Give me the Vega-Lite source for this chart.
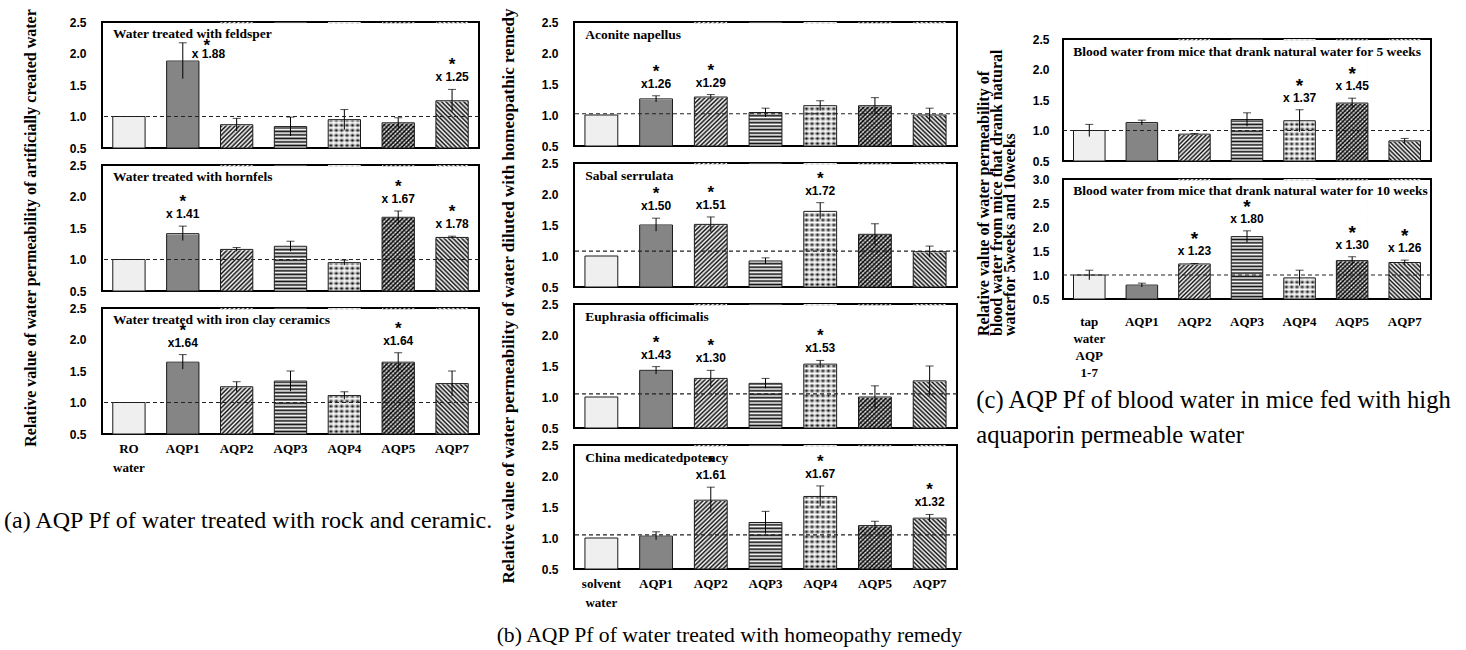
{
"$schema":"https://vega.github.io/schema/vega-lite/v6.json",
"padding":{"left":3,"top":8,"right":5,"bottom":5},
"params":[
{"name":"gp2","value":{"gradient":"linear","x1":1,"y1":1,"x2":0.698,"y2":-0.179,"stops":[{"offset":0,"color":"#111"},{"offset":0.014,"color":"#fff"},{"offset":0.028,"color":"#111"},{"offset":0.042,"color":"#fff"},{"offset":0.056,"color":"#111"},{"offset":0.07,"color":"#fff"},{"offset":0.084,"color":"#111"},{"offset":0.098,"color":"#fff"},{"offset":0.112,"color":"#111"},{"offset":0.126,"color":"#fff"},{"offset":0.14,"color":"#111"},{"offset":0.154,"color":"#fff"},{"offset":0.168,"color":"#111"},{"offset":0.182,"color":"#fff"},{"offset":0.196,"color":"#111"},{"offset":0.21,"color":"#fff"},{"offset":0.224,"color":"#111"},{"offset":0.238,"color":"#fff"},{"offset":0.252,"color":"#111"},{"offset":0.266,"color":"#fff"},{"offset":0.28,"color":"#111"},{"offset":0.294,"color":"#fff"},{"offset":0.308,"color":"#111"},{"offset":0.322,"color":"#fff"},{"offset":0.336,"color":"#111"},{"offset":0.35,"color":"#fff"},{"offset":0.364,"color":"#111"},{"offset":0.378,"color":"#fff"},{"offset":0.392,"color":"#111"},{"offset":0.406,"color":"#fff"},{"offset":0.42,"color":"#111"},{"offset":0.434,"color":"#fff"},{"offset":0.448,"color":"#111"},{"offset":0.462,"color":"#fff"},{"offset":0.476,"color":"#111"},{"offset":0.49,"color":"#fff"},{"offset":0.504,"color":"#111"},{"offset":0.518,"color":"#fff"},{"offset":0.532,"color":"#111"},{"offset":0.546,"color":"#fff"},{"offset":0.56,"color":"#111"},{"offset":0.574,"color":"#fff"},{"offset":0.588,"color":"#111"},{"offset":0.602,"color":"#fff"},{"offset":0.616,"color":"#111"},{"offset":0.63,"color":"#fff"},{"offset":0.644,"color":"#111"},{"offset":0.658,"color":"#fff"},{"offset":0.672,"color":"#111"},{"offset":0.686,"color":"#fff"},{"offset":0.7,"color":"#111"},{"offset":0.714,"color":"#fff"},{"offset":0.728,"color":"#111"},{"offset":0.742,"color":"#fff"},{"offset":0.756,"color":"#111"},{"offset":0.77,"color":"#fff"},{"offset":0.784,"color":"#111"},{"offset":0.798,"color":"#fff"},{"offset":0.812,"color":"#111"},{"offset":0.826,"color":"#fff"},{"offset":0.84,"color":"#111"},{"offset":0.854,"color":"#fff"},{"offset":0.868,"color":"#111"},{"offset":0.882,"color":"#fff"},{"offset":0.896,"color":"#111"},{"offset":0.91,"color":"#fff"},{"offset":0.924,"color":"#111"},{"offset":0.938,"color":"#fff"},{"offset":0.952,"color":"#111"},{"offset":0.966,"color":"#fff"},{"offset":0.98,"color":"#111"},{"offset":0.994,"color":"#fff"}]}},
{"name":"gp7","value":{"gradient":"linear","x1":1,"y1":0,"x2":0.698,"y2":1.179,"stops":[{"offset":0,"color":"#111"},{"offset":0.014,"color":"#fff"},{"offset":0.028,"color":"#111"},{"offset":0.042,"color":"#fff"},{"offset":0.056,"color":"#111"},{"offset":0.07,"color":"#fff"},{"offset":0.084,"color":"#111"},{"offset":0.098,"color":"#fff"},{"offset":0.112,"color":"#111"},{"offset":0.126,"color":"#fff"},{"offset":0.14,"color":"#111"},{"offset":0.154,"color":"#fff"},{"offset":0.168,"color":"#111"},{"offset":0.182,"color":"#fff"},{"offset":0.196,"color":"#111"},{"offset":0.21,"color":"#fff"},{"offset":0.224,"color":"#111"},{"offset":0.238,"color":"#fff"},{"offset":0.252,"color":"#111"},{"offset":0.266,"color":"#fff"},{"offset":0.28,"color":"#111"},{"offset":0.294,"color":"#fff"},{"offset":0.308,"color":"#111"},{"offset":0.322,"color":"#fff"},{"offset":0.336,"color":"#111"},{"offset":0.35,"color":"#fff"},{"offset":0.364,"color":"#111"},{"offset":0.378,"color":"#fff"},{"offset":0.392,"color":"#111"},{"offset":0.406,"color":"#fff"},{"offset":0.42,"color":"#111"},{"offset":0.434,"color":"#fff"},{"offset":0.448,"color":"#111"},{"offset":0.462,"color":"#fff"},{"offset":0.476,"color":"#111"},{"offset":0.49,"color":"#fff"},{"offset":0.504,"color":"#111"},{"offset":0.518,"color":"#fff"},{"offset":0.532,"color":"#111"},{"offset":0.546,"color":"#fff"},{"offset":0.56,"color":"#111"},{"offset":0.574,"color":"#fff"},{"offset":0.588,"color":"#111"},{"offset":0.602,"color":"#fff"},{"offset":0.616,"color":"#111"},{"offset":0.63,"color":"#fff"},{"offset":0.644,"color":"#111"},{"offset":0.658,"color":"#fff"},{"offset":0.672,"color":"#111"},{"offset":0.686,"color":"#fff"},{"offset":0.7,"color":"#111"},{"offset":0.714,"color":"#fff"},{"offset":0.728,"color":"#111"},{"offset":0.742,"color":"#fff"},{"offset":0.756,"color":"#111"},{"offset":0.77,"color":"#fff"},{"offset":0.784,"color":"#111"},{"offset":0.798,"color":"#fff"},{"offset":0.812,"color":"#111"},{"offset":0.826,"color":"#fff"},{"offset":0.84,"color":"#111"},{"offset":0.854,"color":"#fff"},{"offset":0.868,"color":"#111"},{"offset":0.882,"color":"#fff"},{"offset":0.896,"color":"#111"},{"offset":0.91,"color":"#fff"},{"offset":0.924,"color":"#111"},{"offset":0.938,"color":"#fff"},{"offset":0.952,"color":"#111"},{"offset":0.966,"color":"#fff"},{"offset":0.98,"color":"#111"},{"offset":0.994,"color":"#fff"}]}},
{"name":"gp3","value":{"gradient":"linear","x1":0,"y1":0,"x2":0,"y2":1,"stops":[{"offset":0,"color":"#111"},{"offset":0.014,"color":"#fff"},{"offset":0.028,"color":"#111"},{"offset":0.042,"color":"#fff"},{"offset":0.056,"color":"#111"},{"offset":0.07,"color":"#fff"},{"offset":0.084,"color":"#111"},{"offset":0.098,"color":"#fff"},{"offset":0.112,"color":"#111"},{"offset":0.126,"color":"#fff"},{"offset":0.14,"color":"#111"},{"offset":0.154,"color":"#fff"},{"offset":0.168,"color":"#111"},{"offset":0.182,"color":"#fff"},{"offset":0.196,"color":"#111"},{"offset":0.21,"color":"#fff"},{"offset":0.224,"color":"#111"},{"offset":0.238,"color":"#fff"},{"offset":0.252,"color":"#111"},{"offset":0.266,"color":"#fff"},{"offset":0.28,"color":"#111"},{"offset":0.294,"color":"#fff"},{"offset":0.308,"color":"#111"},{"offset":0.322,"color":"#fff"},{"offset":0.336,"color":"#111"},{"offset":0.35,"color":"#fff"},{"offset":0.364,"color":"#111"},{"offset":0.378,"color":"#fff"},{"offset":0.392,"color":"#111"},{"offset":0.406,"color":"#fff"},{"offset":0.42,"color":"#111"},{"offset":0.434,"color":"#fff"},{"offset":0.448,"color":"#111"},{"offset":0.462,"color":"#fff"},{"offset":0.476,"color":"#111"},{"offset":0.49,"color":"#fff"},{"offset":0.504,"color":"#111"},{"offset":0.518,"color":"#fff"},{"offset":0.532,"color":"#111"},{"offset":0.546,"color":"#fff"},{"offset":0.56,"color":"#111"},{"offset":0.574,"color":"#fff"},{"offset":0.588,"color":"#111"},{"offset":0.602,"color":"#fff"},{"offset":0.616,"color":"#111"},{"offset":0.63,"color":"#fff"},{"offset":0.644,"color":"#111"},{"offset":0.658,"color":"#fff"},{"offset":0.672,"color":"#111"},{"offset":0.686,"color":"#fff"},{"offset":0.7,"color":"#111"},{"offset":0.714,"color":"#fff"},{"offset":0.728,"color":"#111"},{"offset":0.742,"color":"#fff"},{"offset":0.756,"color":"#111"},{"offset":0.77,"color":"#fff"},{"offset":0.784,"color":"#111"},{"offset":0.798,"color":"#fff"},{"offset":0.812,"color":"#111"},{"offset":0.826,"color":"#fff"},{"offset":0.84,"color":"#111"},{"offset":0.854,"color":"#fff"},{"offset":0.868,"color":"#111"},{"offset":0.882,"color":"#fff"},{"offset":0.896,"color":"#111"},{"offset":0.91,"color":"#fff"},{"offset":0.924,"color":"#111"},{"offset":0.938,"color":"#fff"},{"offset":0.952,"color":"#111"},{"offset":0.966,"color":"#fff"},{"offset":0.98,"color":"#111"},{"offset":0.994,"color":"#fff"}]}},
{"name":"gp5a","value":{"gradient":"linear","x1":1,"y1":1,"x2":0.698,"y2":-0.179,"stops":[{"offset":0,"color":"#000"},{"offset":0.014,"color":"#fff"},{"offset":0.028,"color":"#000"},{"offset":0.042,"color":"#fff"},{"offset":0.056,"color":"#000"},{"offset":0.07,"color":"#fff"},{"offset":0.084,"color":"#000"},{"offset":0.098,"color":"#fff"},{"offset":0.112,"color":"#000"},{"offset":0.126,"color":"#fff"},{"offset":0.14,"color":"#000"},{"offset":0.154,"color":"#fff"},{"offset":0.168,"color":"#000"},{"offset":0.182,"color":"#fff"},{"offset":0.196,"color":"#000"},{"offset":0.21,"color":"#fff"},{"offset":0.224,"color":"#000"},{"offset":0.238,"color":"#fff"},{"offset":0.252,"color":"#000"},{"offset":0.266,"color":"#fff"},{"offset":0.28,"color":"#000"},{"offset":0.294,"color":"#fff"},{"offset":0.308,"color":"#000"},{"offset":0.322,"color":"#fff"},{"offset":0.336,"color":"#000"},{"offset":0.35,"color":"#fff"},{"offset":0.364,"color":"#000"},{"offset":0.378,"color":"#fff"},{"offset":0.392,"color":"#000"},{"offset":0.406,"color":"#fff"},{"offset":0.42,"color":"#000"},{"offset":0.434,"color":"#fff"},{"offset":0.448,"color":"#000"},{"offset":0.462,"color":"#fff"},{"offset":0.476,"color":"#000"},{"offset":0.49,"color":"#fff"},{"offset":0.504,"color":"#000"},{"offset":0.518,"color":"#fff"},{"offset":0.532,"color":"#000"},{"offset":0.546,"color":"#fff"},{"offset":0.56,"color":"#000"},{"offset":0.574,"color":"#fff"},{"offset":0.588,"color":"#000"},{"offset":0.602,"color":"#fff"},{"offset":0.616,"color":"#000"},{"offset":0.63,"color":"#fff"},{"offset":0.644,"color":"#000"},{"offset":0.658,"color":"#fff"},{"offset":0.672,"color":"#000"},{"offset":0.686,"color":"#fff"},{"offset":0.7,"color":"#000"},{"offset":0.714,"color":"#fff"},{"offset":0.728,"color":"#000"},{"offset":0.742,"color":"#fff"},{"offset":0.756,"color":"#000"},{"offset":0.77,"color":"#fff"},{"offset":0.784,"color":"#000"},{"offset":0.798,"color":"#fff"},{"offset":0.812,"color":"#000"},{"offset":0.826,"color":"#fff"},{"offset":0.84,"color":"#000"},{"offset":0.854,"color":"#fff"},{"offset":0.868,"color":"#000"},{"offset":0.882,"color":"#fff"},{"offset":0.896,"color":"#000"},{"offset":0.91,"color":"#fff"},{"offset":0.924,"color":"#000"},{"offset":0.938,"color":"#fff"},{"offset":0.952,"color":"#000"},{"offset":0.966,"color":"#fff"},{"offset":0.98,"color":"#000"},{"offset":0.994,"color":"#fff"}]}},
{"name":"gp5b","value":{"gradient":"linear","x1":1,"y1":0,"x2":0.698,"y2":1.179,"stops":[{"offset":0,"color":"rgba(0,0,0,0.5)"},{"offset":0.014,"color":"rgba(0,0,0,0)"},{"offset":0.028,"color":"rgba(0,0,0,0.5)"},{"offset":0.042,"color":"rgba(0,0,0,0)"},{"offset":0.056,"color":"rgba(0,0,0,0.5)"},{"offset":0.07,"color":"rgba(0,0,0,0)"},{"offset":0.084,"color":"rgba(0,0,0,0.5)"},{"offset":0.098,"color":"rgba(0,0,0,0)"},{"offset":0.112,"color":"rgba(0,0,0,0.5)"},{"offset":0.126,"color":"rgba(0,0,0,0)"},{"offset":0.14,"color":"rgba(0,0,0,0.5)"},{"offset":0.154,"color":"rgba(0,0,0,0)"},{"offset":0.168,"color":"rgba(0,0,0,0.5)"},{"offset":0.182,"color":"rgba(0,0,0,0)"},{"offset":0.196,"color":"rgba(0,0,0,0.5)"},{"offset":0.21,"color":"rgba(0,0,0,0)"},{"offset":0.224,"color":"rgba(0,0,0,0.5)"},{"offset":0.238,"color":"rgba(0,0,0,0)"},{"offset":0.252,"color":"rgba(0,0,0,0.5)"},{"offset":0.266,"color":"rgba(0,0,0,0)"},{"offset":0.28,"color":"rgba(0,0,0,0.5)"},{"offset":0.294,"color":"rgba(0,0,0,0)"},{"offset":0.308,"color":"rgba(0,0,0,0.5)"},{"offset":0.322,"color":"rgba(0,0,0,0)"},{"offset":0.336,"color":"rgba(0,0,0,0.5)"},{"offset":0.35,"color":"rgba(0,0,0,0)"},{"offset":0.364,"color":"rgba(0,0,0,0.5)"},{"offset":0.378,"color":"rgba(0,0,0,0)"},{"offset":0.392,"color":"rgba(0,0,0,0.5)"},{"offset":0.406,"color":"rgba(0,0,0,0)"},{"offset":0.42,"color":"rgba(0,0,0,0.5)"},{"offset":0.434,"color":"rgba(0,0,0,0)"},{"offset":0.448,"color":"rgba(0,0,0,0.5)"},{"offset":0.462,"color":"rgba(0,0,0,0)"},{"offset":0.476,"color":"rgba(0,0,0,0.5)"},{"offset":0.49,"color":"rgba(0,0,0,0)"},{"offset":0.504,"color":"rgba(0,0,0,0.5)"},{"offset":0.518,"color":"rgba(0,0,0,0)"},{"offset":0.532,"color":"rgba(0,0,0,0.5)"},{"offset":0.546,"color":"rgba(0,0,0,0)"},{"offset":0.56,"color":"rgba(0,0,0,0.5)"},{"offset":0.574,"color":"rgba(0,0,0,0)"},{"offset":0.588,"color":"rgba(0,0,0,0.5)"},{"offset":0.602,"color":"rgba(0,0,0,0)"},{"offset":0.616,"color":"rgba(0,0,0,0.5)"},{"offset":0.63,"color":"rgba(0,0,0,0)"},{"offset":0.644,"color":"rgba(0,0,0,0.5)"},{"offset":0.658,"color":"rgba(0,0,0,0)"},{"offset":0.672,"color":"rgba(0,0,0,0.5)"},{"offset":0.686,"color":"rgba(0,0,0,0)"},{"offset":0.7,"color":"rgba(0,0,0,0.5)"},{"offset":0.714,"color":"rgba(0,0,0,0)"},{"offset":0.728,"color":"rgba(0,0,0,0.5)"},{"offset":0.742,"color":"rgba(0,0,0,0)"},{"offset":0.756,"color":"rgba(0,0,0,0.5)"},{"offset":0.77,"color":"rgba(0,0,0,0)"},{"offset":0.784,"color":"rgba(0,0,0,0.5)"},{"offset":0.798,"color":"rgba(0,0,0,0)"},{"offset":0.812,"color":"rgba(0,0,0,0.5)"},{"offset":0.826,"color":"rgba(0,0,0,0)"},{"offset":0.84,"color":"rgba(0,0,0,0.5)"},{"offset":0.854,"color":"rgba(0,0,0,0)"},{"offset":0.868,"color":"rgba(0,0,0,0.5)"},{"offset":0.882,"color":"rgba(0,0,0,0)"},{"offset":0.896,"color":"rgba(0,0,0,0.5)"},{"offset":0.91,"color":"rgba(0,0,0,0)"},{"offset":0.924,"color":"rgba(0,0,0,0.5)"},{"offset":0.938,"color":"rgba(0,0,0,0)"},{"offset":0.952,"color":"rgba(0,0,0,0.5)"},{"offset":0.966,"color":"rgba(0,0,0,0)"},{"offset":0.98,"color":"rgba(0,0,0,0.5)"},{"offset":0.994,"color":"rgba(0,0,0,0)"}]}},
{"name":"gp4r","value":{"gradient":"linear","x1":0,"y1":0,"x2":0,"y2":1,"stops":[{"offset":0,"color":"#fff"},{"offset":0.02,"color":"#000"},{"offset":0.04,"color":"#fff"},{"offset":0.06,"color":"#000"},{"offset":0.08,"color":"#fff"},{"offset":0.1,"color":"#000"},{"offset":0.12,"color":"#fff"},{"offset":0.14,"color":"#000"},{"offset":0.16,"color":"#fff"},{"offset":0.18,"color":"#000"},{"offset":0.2,"color":"#fff"},{"offset":0.22,"color":"#000"},{"offset":0.24,"color":"#fff"},{"offset":0.26,"color":"#000"},{"offset":0.28,"color":"#fff"},{"offset":0.3,"color":"#000"},{"offset":0.32,"color":"#fff"},{"offset":0.34,"color":"#000"},{"offset":0.36,"color":"#fff"},{"offset":0.38,"color":"#000"},{"offset":0.4,"color":"#fff"},{"offset":0.42,"color":"#000"},{"offset":0.44,"color":"#fff"},{"offset":0.46,"color":"#000"},{"offset":0.48,"color":"#fff"},{"offset":0.5,"color":"#000"},{"offset":0.52,"color":"#fff"},{"offset":0.54,"color":"#000"},{"offset":0.56,"color":"#fff"},{"offset":0.58,"color":"#000"},{"offset":0.6,"color":"#fff"},{"offset":0.62,"color":"#000"},{"offset":0.64,"color":"#fff"},{"offset":0.66,"color":"#000"},{"offset":0.68,"color":"#fff"},{"offset":0.7,"color":"#000"},{"offset":0.72,"color":"#fff"},{"offset":0.74,"color":"#000"},{"offset":0.76,"color":"#fff"},{"offset":0.78,"color":"#000"},{"offset":0.8,"color":"#fff"},{"offset":0.82,"color":"#000"},{"offset":0.84,"color":"#fff"},{"offset":0.86,"color":"#000"},{"offset":0.88,"color":"#fff"},{"offset":0.9,"color":"#000"},{"offset":0.92,"color":"#fff"},{"offset":0.94,"color":"#000"},{"offset":0.96,"color":"#fff"},{"offset":0.98,"color":"#000"},{"offset":1,"color":"#fff"}]}},
{"name":"gp4c","value":{"gradient":"linear","x1":0,"y1":0,"x2":1,"y2":0,"stops":[{"offset":0,"color":"rgba(255,255,255,0.85)"},{"offset":0.0833,"color":"rgba(255,255,255,0)"},{"offset":0.1667,"color":"rgba(255,255,255,0.85)"},{"offset":0.25,"color":"rgba(255,255,255,0)"},{"offset":0.3333,"color":"rgba(255,255,255,0.85)"},{"offset":0.4167,"color":"rgba(255,255,255,0)"},{"offset":0.5,"color":"rgba(255,255,255,0.85)"},{"offset":0.5833,"color":"rgba(255,255,255,0)"},{"offset":0.6667,"color":"rgba(255,255,255,0.85)"},{"offset":0.75,"color":"rgba(255,255,255,0)"},{"offset":0.8333,"color":"rgba(255,255,255,0.85)"},{"offset":0.9167,"color":"rgba(255,255,255,0)"},{"offset":1,"color":"rgba(255,255,255,0.85)"}]}}
],
"datasets":{"d":[
{"g":"a","p":"Water treated with feldsper","cat":"RO water","v":1.0},
{"g":"a","p":"Water treated with feldsper","cat":"AQP1","v":1.88,"lo":1.60,"hi":2.17,"ann":"x 1.88"},
{"g":"a","p":"Water treated with feldsper","cat":"AQP2","v":0.87,"lo":0.77,"hi":0.97},
{"g":"a","p":"Water treated with feldsper","cat":"AQP3","v":0.84,"lo":0.69,"hi":0.99},
{"g":"a","p":"Water treated with feldsper","cat":"AQP4","v":0.95,"lo":0.79,"hi":1.11},
{"g":"a","p":"Water treated with feldsper","cat":"AQP5","v":0.90,"lo":0.82,"hi":0.98},
{"g":"a","p":"Water treated with feldsper","cat":"AQP7","v":1.25,"lo":1.08,"hi":1.43,"ann":"x 1.25"},
{"g":"a","p":"Water treated with feldsper","ref":1.0},
{"g":"a","p":"Water treated with hornfels","cat":"RO water","v":1.0},
{"g":"a","p":"Water treated with hornfels","cat":"AQP1","v":1.41,"lo":1.30,"hi":1.53,"ann":"x 1.41"},
{"g":"a","p":"Water treated with hornfels","cat":"AQP2","v":1.16,"lo":1.13,"hi":1.19},
{"g":"a","p":"Water treated with hornfels","cat":"AQP3","v":1.21,"lo":1.13,"hi":1.29},
{"g":"a","p":"Water treated with hornfels","cat":"AQP4","v":0.95,"lo":0.91,"hi":0.99},
{"g":"a","p":"Water treated with hornfels","cat":"AQP5","v":1.67,"lo":1.57,"hi":1.77,"ann":"x 1.67"},
{"g":"a","p":"Water treated with hornfels","cat":"AQP7","v":1.35,"lo":1.33,"hi":1.37,"ann":"x 1.78"},
{"g":"a","p":"Water treated with hornfels","ref":1.0},
{"g":"a","p":"Water treated with iron clay ceramics","cat":"RO water","v":1.0},
{"g":"a","p":"Water treated with iron clay ceramics","cat":"AQP1","v":1.64,"lo":1.53,"hi":1.76,"ann":"x1.64"},
{"g":"a","p":"Water treated with iron clay ceramics","cat":"AQP2","v":1.25,"lo":1.17,"hi":1.33},
{"g":"a","p":"Water treated with iron clay ceramics","cat":"AQP3","v":1.34,"lo":1.18,"hi":1.50},
{"g":"a","p":"Water treated with iron clay ceramics","cat":"AQP4","v":1.11,"lo":1.05,"hi":1.17},
{"g":"a","p":"Water treated with iron clay ceramics","cat":"AQP5","v":1.64,"lo":1.50,"hi":1.79,"ann":"x1.64"},
{"g":"a","p":"Water treated with iron clay ceramics","cat":"AQP7","v":1.30,"lo":1.10,"hi":1.50},
{"g":"a","p":"Water treated with iron clay ceramics","ref":1.0},
{"g":"b","p":"Aconite napellus","cat":"solvent water","v":1.0},
{"g":"b","p":"Aconite napellus","cat":"AQP1","v":1.26,"lo":1.21,"hi":1.31,"ann":"x1.26"},
{"g":"b","p":"Aconite napellus","cat":"AQP2","v":1.29,"lo":1.25,"hi":1.33,"ann":"x1.29"},
{"g":"b","p":"Aconite napellus","cat":"AQP3","v":1.04,"lo":0.97,"hi":1.11},
{"g":"b","p":"Aconite napellus","cat":"AQP4","v":1.15,"lo":1.07,"hi":1.23},
{"g":"b","p":"Aconite napellus","cat":"AQP5","v":1.15,"lo":1.02,"hi":1.28},
{"g":"b","p":"Aconite napellus","cat":"AQP7","v":1.0,"lo":0.89,"hi":1.11},
{"g":"b","p":"Aconite napellus","ref":1.02},
{"g":"b","p":"Sabal serrulata","cat":"solvent water","v":1.0},
{"g":"b","p":"Sabal serrulata","cat":"AQP1","v":1.50,"lo":1.40,"hi":1.61,"ann":"x1.50"},
{"g":"b","p":"Sabal serrulata","cat":"AQP2","v":1.51,"lo":1.39,"hi":1.63,"ann":"x1.51"},
{"g":"b","p":"Sabal serrulata","cat":"AQP3","v":0.92,"lo":0.87,"hi":0.97},
{"g":"b","p":"Sabal serrulata","cat":"AQP4","v":1.72,"lo":1.60,"hi":1.86,"ann":"x1.72"},
{"g":"b","p":"Sabal serrulata","cat":"AQP5","v":1.35,"lo":1.18,"hi":1.52},
{"g":"b","p":"Sabal serrulata","cat":"AQP7","v":1.07,"lo":0.98,"hi":1.16},
{"g":"b","p":"Sabal serrulata","ref":1.08},
{"g":"b","p":"Euphrasia officimalis","cat":"solvent water","v":1.0},
{"g":"b","p":"Euphrasia officimalis","cat":"AQP1","v":1.43,"lo":1.37,"hi":1.49,"ann":"x1.43"},
{"g":"b","p":"Euphrasia officimalis","cat":"AQP2","v":1.30,"lo":1.17,"hi":1.43,"ann":"x1.30"},
{"g":"b","p":"Euphrasia officimalis","cat":"AQP3","v":1.22,"lo":1.14,"hi":1.30},
{"g":"b","p":"Euphrasia officimalis","cat":"AQP4","v":1.53,"lo":1.47,"hi":1.59,"ann":"x1.53"},
{"g":"b","p":"Euphrasia officimalis","cat":"AQP5","v":1.0,"lo":0.82,"hi":1.18},
{"g":"b","p":"Euphrasia officimalis","cat":"AQP7","v":1.26,"lo":1.02,"hi":1.50},
{"g":"b","p":"Euphrasia officimalis","ref":1.05},
{"g":"b","p":"China medicatedpotency","cat":"solvent water","v":1.0},
{"g":"b","p":"China medicatedpotency","cat":"AQP1","v":1.03,"lo":0.97,"hi":1.10},
{"g":"b","p":"China medicatedpotency","cat":"AQP2","v":1.61,"lo":1.41,"hi":1.82,"ann":"x1.61"},
{"g":"b","p":"China medicatedpotency","cat":"AQP3","v":1.25,"lo":1.07,"hi":1.43},
{"g":"b","p":"China medicatedpotency","cat":"AQP4","v":1.67,"lo":1.51,"hi":1.84,"ann":"x1.67"},
{"g":"b","p":"China medicatedpotency","cat":"AQP5","v":1.20,"lo":1.13,"hi":1.27},
{"g":"b","p":"China medicatedpotency","cat":"AQP7","v":1.32,"lo":1.26,"hi":1.38,"ann":"x1.32"},
{"g":"b","p":"China medicatedpotency","ref":1.05},
{"g":"c","p":"Blood water from mice that drank natural water for 5 weeks","cat":"tap water AQP 1-7","v":1.0,"lo":0.90,"hi":1.10},
{"g":"c","p":"Blood water from mice that drank natural water for 5 weeks","cat":"AQP1","v":1.13,"lo":1.09,"hi":1.17},
{"g":"c","p":"Blood water from mice that drank natural water for 5 weeks","cat":"AQP2","v":0.94,"lo":0.93,"hi":0.95},
{"g":"c","p":"Blood water from mice that drank natural water for 5 weeks","cat":"AQP3","v":1.18,"lo":1.07,"hi":1.29},
{"g":"c","p":"Blood water from mice that drank natural water for 5 weeks","cat":"AQP4","v":1.16,"lo":0.98,"hi":1.34,"ann":"x 1.37"},
{"g":"c","p":"Blood water from mice that drank natural water for 5 weeks","cat":"AQP5","v":1.45,"lo":1.37,"hi":1.53,"ann":"x 1.45"},
{"g":"c","p":"Blood water from mice that drank natural water for 5 weeks","cat":"AQP7","v":0.83,"lo":0.79,"hi":0.87},
{"g":"c","p":"Blood water from mice that drank natural water for 5 weeks","ref":1.0},
{"g":"c","p":"Blood water from mice that drank natural water for 10 weeks","cat":"tap water AQP 1-7","v":1.0,"lo":0.90,"hi":1.10},
{"g":"c","p":"Blood water from mice that drank natural water for 10 weeks","cat":"AQP1","v":0.79,"lo":0.75,"hi":0.83},
{"g":"c","p":"Blood water from mice that drank natural water for 10 weeks","cat":"AQP2","v":1.23,"lo":1.22,"hi":1.24,"ann":"x 1.23"},
{"g":"c","p":"Blood water from mice that drank natural water for 10 weeks","cat":"AQP3","v":1.80,"lo":1.68,"hi":1.92,"ann":"x 1.80"},
{"g":"c","p":"Blood water from mice that drank natural water for 10 weeks","cat":"AQP4","v":0.94,"lo":0.78,"hi":1.10},
{"g":"c","p":"Blood water from mice that drank natural water for 10 weeks","cat":"AQP5","v":1.30,"lo":1.22,"hi":1.38,"ann":"x 1.30"},
{"g":"c","p":"Blood water from mice that drank natural water for 10 weeks","cat":"AQP7","v":1.26,"lo":1.21,"hi":1.31,"ann":"x 1.26"},
{"g":"c","p":"Blood water from mice that drank natural water for 10 weeks","ref":1.0}
]},
"spacing":13,
"hconcat":[
{"spacing":0,"hconcat":[
{
"data":{"name":"d"},
"transform":[{"filter":"datum.g=='a'"}],
"title":{"text":"(a) AQP Pf of water treated with rock and ceramic.","orient":"bottom","anchor":"start","frame":"bounds","font":"Liberation Serif","fontSize":24,"fontWeight":"normal","color":"#000","offset":35,"dx":-19},
"facet":{"row":{"field":"p","type":"nominal","sort":["Water treated with feldsper","Water treated with hornfels","Water treated with iron clay ceramics"],"title":"Relative value of water permeability of artificially created water","header":{"labels":false,"titleFont":"Liberation Serif","titleFontSize":16,"titleFontWeight":"bold","titleColor":"#000","titlePadding":20}}},
"spacing":{"row":14},
"spec":{
"width":377,"height":126,
"layer":[
{"encoding":{"x":{"field":"cat","type":"nominal","sort":["RO water","solvent water","tap water AQP 1-7","AQP1","AQP2","AQP3","AQP4","AQP5","AQP7"],"title":null,"scale":{"paddingInner":0.4,"paddingOuter":0.2},"axis":{"labelExpr":"split(datum.label,' ')","labelAngle":0,"labelPadding":6,"labelLineHeight":19}}},
"layer":[
{"transform":[{"filter":"isValid(datum.cat) && indexof(datum.cat,'water')>=0"}],"mark":{"type":"bar","fill":"#efefef"},"encoding":{"y":{"field":"v","type":"quantitative","title":null,"scale":{"domain":[0.5,2.5],"nice":false,"zero":false},"axis":{"tickCount":5,"labelExpr":"format(datum.value,'.1f')","labelOverlap":false}},"y2":{"datum":0.5}}},
{"transform":[{"filter":"datum.cat=='AQP1'"}],"mark":{"type":"bar","fill":"#858585"},"encoding":{"y":{"field":"v","type":"quantitative","title":null},"y2":{"datum":0.5}}},
{"transform":[{"filter":"datum.cat=='AQP2'"}],"mark":{"type":"bar","fill":{"expr":"gp2"}},"encoding":{"y":{"datum":2.5},"y2":{"datum":0.5}}},
{"transform":[{"filter":"datum.cat=='AQP3'"}],"mark":{"type":"bar","fill":{"expr":"gp3"}},"encoding":{"y":{"datum":2.5},"y2":{"datum":0.5}}},
{"transform":[{"filter":"datum.cat=='AQP4'"}],"mark":{"type":"bar","fill":{"expr":"gp4r"}},"encoding":{"y":{"datum":2.5},"y2":{"datum":0.5}}},
{"transform":[{"filter":"datum.cat=='AQP4'"}],"mark":{"type":"bar","fill":{"expr":"gp4c"}},"encoding":{"y":{"datum":2.5},"y2":{"datum":0.5}}},
{"transform":[{"filter":"datum.cat=='AQP5'"}],"mark":{"type":"bar","fill":{"expr":"gp5a"}},"encoding":{"y":{"datum":2.5},"y2":{"datum":0.5}}},
{"transform":[{"filter":"datum.cat=='AQP5'"}],"mark":{"type":"bar","fill":{"expr":"gp5b"}},"encoding":{"y":{"datum":2.5},"y2":{"datum":0.5}}},
{"transform":[{"filter":"datum.cat=='AQP7'"}],"mark":{"type":"bar","fill":{"expr":"gp7"}},"encoding":{"y":{"datum":2.5},"y2":{"datum":0.5}}},
{"transform":[{"filter":"isValid(datum.cat) && indexof(datum.cat,'AQP')==0"}],"mark":{"type":"bar","fill":"#fff","stroke":"#fff","strokeWidth":1.5,"y2Offset":2},"encoding":{"y":{"field":"v","type":"quantitative","title":null},"y2":{"datum":2.5}}},
{"transform":[{"filter":"isValid(datum.v)"}],"mark":{"type":"bar","fill":"transparent","stroke":"#1a1a1a","strokeWidth":1},"encoding":{"y":{"field":"v","type":"quantitative","title":null},"y2":{"datum":0.5}}},
{"transform":[{"filter":"isValid(datum.hi)"}],"mark":{"type":"rule","color":"#000","strokeWidth":1},"encoding":{"y":{"field":"lo","type":"quantitative","title":null},"y2":{"field":"hi"}}},
{"transform":[{"filter":"isValid(datum.hi)"}],"mark":{"type":"tick","color":"#000","thickness":1,"size":8},"encoding":{"y":{"field":"hi","type":"quantitative","title":null}}},
{"transform":[{"filter":"isValid(datum.ann) && !(datum.p=='Water treated with feldsper' && datum.cat=='AQP1')"}],"mark":{"type":"text","font":"Liberation Sans","fontWeight":"bold","fontSize":12,"baseline":"middle","dy":-12,"color":"#000"},"encoding":{"y":{"field":"hi","type":"quantitative","title":null},"text":{"field":"ann"}}},
{"transform":[{"filter":"isValid(datum.ann) && !(datum.p=='Water treated with feldsper' && datum.cat=='AQP1')"}],"mark":{"type":"text","text":"*","font":"Liberation Sans","fontWeight":"bold","fontSize":17,"baseline":"middle","dy":-24,"color":"#000"},"encoding":{"y":{"field":"hi","type":"quantitative","title":null}}},
{"transform":[{"filter":"datum.p=='Water treated with feldsper' && datum.cat=='AQP1'"}],"mark":{"type":"text","font":"Liberation Sans","fontWeight":"bold","fontSize":12,"baseline":"middle","align":"left","dx":9,"dy":11,"color":"#000"},"encoding":{"y":{"field":"hi","type":"quantitative","title":null},"text":{"field":"ann"}}},
{"transform":[{"filter":"datum.p=='Water treated with feldsper' && datum.cat=='AQP1'"}],"mark":{"type":"text","text":"*","font":"Liberation Sans","fontWeight":"bold","fontSize":17,"baseline":"middle","dx":24,"dy":3,"color":"#000"},"encoding":{"y":{"field":"hi","type":"quantitative","title":null}}},
{"transform":[{"filter":"isValid(datum.cat) && indexof(datum.cat,'water')>=0"}],"mark":{"type":"text","align":"left","baseline":"middle","dx":-16,"dy":12,"font":"Liberation Serif","fontWeight":"bold","fontSize":13.5,"color":"#000"},"encoding":{"y":{"datum":2.5},"text":{"field":"p"}}}
]},
{"transform":[{"filter":"isValid(datum.ref)"}],"mark":{"type":"rule","strokeDash":[4,3],"color":"#222","strokeWidth":1.2},"encoding":{"y":{"field":"ref","type":"quantitative","title":null}}}
]}
},
{
"data":{"name":"d"},
"transform":[{"filter":"datum.g=='b'"}],
"title":{"text":"(b) AQP Pf of water treated with homeopathy remedy","orient":"bottom","anchor":"middle","frame":"bounds","font":"Liberation Serif","fontSize":21.7,"fontWeight":"normal","color":"#000","offset":16},
"facet":{"row":{"field":"p","type":"nominal","sort":["Aconite napellus","Sabal serrulata","Euphrasia officimalis","China medicatedpotency"],"title":"Relative value of water permeability of water diluted with homeopathic remedy","header":{"labels":false,"titleFont":"Liberation Serif","titleFontSize":17,"titleFontWeight":"bold","titleColor":"#000","titlePadding":13}}},
"spacing":{"row":14},
"spec":{
"width":383,"height":124,
"layer":[
{"encoding":{"x":{"field":"cat","type":"nominal","sort":["RO water","solvent water","tap water AQP 1-7","AQP1","AQP2","AQP3","AQP4","AQP5","AQP7"],"title":null,"scale":{"paddingInner":0.4,"paddingOuter":0.2},"axis":{"labelExpr":"split(datum.label,' ')","labelAngle":0,"labelPadding":6,"labelLineHeight":19}}},
"layer":[
{"transform":[{"filter":"isValid(datum.cat) && indexof(datum.cat,'water')>=0"}],"mark":{"type":"bar","fill":"#efefef"},"encoding":{"y":{"field":"v","type":"quantitative","title":null,"scale":{"domain":[0.5,2.5],"nice":false,"zero":false},"axis":{"tickCount":5,"labelExpr":"format(datum.value,'.1f')","labelOverlap":false}},"y2":{"datum":0.5}}},
{"transform":[{"filter":"datum.cat=='AQP1'"}],"mark":{"type":"bar","fill":"#858585"},"encoding":{"y":{"field":"v","type":"quantitative","title":null},"y2":{"datum":0.5}}},
{"transform":[{"filter":"datum.cat=='AQP2'"}],"mark":{"type":"bar","fill":{"expr":"gp2"}},"encoding":{"y":{"datum":2.5},"y2":{"datum":0.5}}},
{"transform":[{"filter":"datum.cat=='AQP3'"}],"mark":{"type":"bar","fill":{"expr":"gp3"}},"encoding":{"y":{"datum":2.5},"y2":{"datum":0.5}}},
{"transform":[{"filter":"datum.cat=='AQP4'"}],"mark":{"type":"bar","fill":{"expr":"gp4r"}},"encoding":{"y":{"datum":2.5},"y2":{"datum":0.5}}},
{"transform":[{"filter":"datum.cat=='AQP4'"}],"mark":{"type":"bar","fill":{"expr":"gp4c"}},"encoding":{"y":{"datum":2.5},"y2":{"datum":0.5}}},
{"transform":[{"filter":"datum.cat=='AQP5'"}],"mark":{"type":"bar","fill":{"expr":"gp5a"}},"encoding":{"y":{"datum":2.5},"y2":{"datum":0.5}}},
{"transform":[{"filter":"datum.cat=='AQP5'"}],"mark":{"type":"bar","fill":{"expr":"gp5b"}},"encoding":{"y":{"datum":2.5},"y2":{"datum":0.5}}},
{"transform":[{"filter":"datum.cat=='AQP7'"}],"mark":{"type":"bar","fill":{"expr":"gp7"}},"encoding":{"y":{"datum":2.5},"y2":{"datum":0.5}}},
{"transform":[{"filter":"isValid(datum.cat) && indexof(datum.cat,'AQP')==0"}],"mark":{"type":"bar","fill":"#fff","stroke":"#fff","strokeWidth":1.5,"y2Offset":2},"encoding":{"y":{"field":"v","type":"quantitative","title":null},"y2":{"datum":2.5}}},
{"transform":[{"filter":"isValid(datum.v)"}],"mark":{"type":"bar","fill":"transparent","stroke":"#1a1a1a","strokeWidth":1},"encoding":{"y":{"field":"v","type":"quantitative","title":null},"y2":{"datum":0.5}}},
{"transform":[{"filter":"isValid(datum.hi)"}],"mark":{"type":"rule","color":"#000","strokeWidth":1},"encoding":{"y":{"field":"lo","type":"quantitative","title":null},"y2":{"field":"hi"}}},
{"transform":[{"filter":"isValid(datum.hi)"}],"mark":{"type":"tick","color":"#000","thickness":1,"size":8},"encoding":{"y":{"field":"hi","type":"quantitative","title":null}}},
{"transform":[{"filter":"isValid(datum.ann)"}],"mark":{"type":"text","font":"Liberation Sans","fontWeight":"bold","fontSize":12,"baseline":"middle","dy":-12,"color":"#000"},"encoding":{"y":{"field":"hi","type":"quantitative","title":null},"text":{"field":"ann"}}},
{"transform":[{"filter":"isValid(datum.ann)"}],"mark":{"type":"text","text":"*","font":"Liberation Sans","fontWeight":"bold","fontSize":17,"baseline":"middle","dy":-24,"color":"#000"},"encoding":{"y":{"field":"hi","type":"quantitative","title":null}}},
{"transform":[{"filter":"isValid(datum.cat) && indexof(datum.cat,'water')>=0"}],"mark":{"type":"text","align":"left","baseline":"middle","dx":-16,"dy":13,"font":"Liberation Serif","fontWeight":"bold","fontSize":13.5,"color":"#000"},"encoding":{"y":{"datum":2.5},"text":{"field":"p"}}}
]},
{"transform":[{"filter":"isValid(datum.ref)"}],"mark":{"type":"rule","strokeDash":[4,3],"color":"#222","strokeWidth":1.2},"encoding":{"y":{"field":"ref","type":"quantitative","title":null}}}
]}
}
]},
{
"title":{"text":["(c) AQP Pf of blood water in mice fed with high","aquaporin permeable water"],"orient":"bottom","anchor":"start","frame":"bounds","font":"Liberation Serif","fontSize":24.6,"fontWeight":"normal","color":"#000","offset":9,"lineHeight":35},
"vconcat":[
{
"title":{"text":["Relative value of water permeability of","blood water from mice that drank natural","waterfor 5weeks and 10weeks"],"orient":"left","anchor":"start","frame":"bounds","font":"Liberation Serif","fontSize":16,"fontWeight":"bold","color":"#000","lineHeight":13,"offset":13,"dx":44},
"spacing":4,
"vconcat":[
{"data":{"values":[]},"width":368,"height":6,"view":{"stroke":null},"mark":"rule","encoding":{}},
{
"data":{"name":"d"},
"transform":[{"filter":"datum.p=='Blood water from mice that drank natural water for 5 weeks'"}],
"width":368,"height":122,
"layer":[
{"encoding":{"x":{"field":"cat","type":"nominal","sort":["RO water","solvent water","tap water AQP 1-7","AQP1","AQP2","AQP3","AQP4","AQP5","AQP7"],"title":null,"scale":{"paddingInner":0.4,"paddingOuter":0.2},"axis":null}},
"layer":[
{"transform":[{"filter":"isValid(datum.cat) && indexof(datum.cat,'water')>=0"}],"mark":{"type":"bar","fill":"#efefef"},"encoding":{"y":{"field":"v","type":"quantitative","title":null,"scale":{"domain":[0.5,2.5],"nice":false,"zero":false},"axis":{"tickCount":5,"labelExpr":"format(datum.value,'.1f')","labelOverlap":false}},"y2":{"datum":0.5}}},
{"transform":[{"filter":"datum.cat=='AQP1'"}],"mark":{"type":"bar","fill":"#858585"},"encoding":{"y":{"field":"v","type":"quantitative","title":null},"y2":{"datum":0.5}}},
{"transform":[{"filter":"datum.cat=='AQP2'"}],"mark":{"type":"bar","fill":{"expr":"gp2"}},"encoding":{"y":{"datum":2.5},"y2":{"datum":0.5}}},
{"transform":[{"filter":"datum.cat=='AQP3'"}],"mark":{"type":"bar","fill":{"expr":"gp3"}},"encoding":{"y":{"datum":2.5},"y2":{"datum":0.5}}},
{"transform":[{"filter":"datum.cat=='AQP4'"}],"mark":{"type":"bar","fill":{"expr":"gp4r"}},"encoding":{"y":{"datum":2.5},"y2":{"datum":0.5}}},
{"transform":[{"filter":"datum.cat=='AQP4'"}],"mark":{"type":"bar","fill":{"expr":"gp4c"}},"encoding":{"y":{"datum":2.5},"y2":{"datum":0.5}}},
{"transform":[{"filter":"datum.cat=='AQP5'"}],"mark":{"type":"bar","fill":{"expr":"gp5a"}},"encoding":{"y":{"datum":2.5},"y2":{"datum":0.5}}},
{"transform":[{"filter":"datum.cat=='AQP5'"}],"mark":{"type":"bar","fill":{"expr":"gp5b"}},"encoding":{"y":{"datum":2.5},"y2":{"datum":0.5}}},
{"transform":[{"filter":"datum.cat=='AQP7'"}],"mark":{"type":"bar","fill":{"expr":"gp7"}},"encoding":{"y":{"datum":2.5},"y2":{"datum":0.5}}},
{"transform":[{"filter":"isValid(datum.cat) && indexof(datum.cat,'AQP')==0"}],"mark":{"type":"bar","fill":"#fff","stroke":"#fff","strokeWidth":1.5,"y2Offset":2},"encoding":{"y":{"field":"v","type":"quantitative","title":null},"y2":{"datum":2.5}}},
{"transform":[{"filter":"isValid(datum.v)"}],"mark":{"type":"bar","fill":"transparent","stroke":"#1a1a1a","strokeWidth":1},"encoding":{"y":{"field":"v","type":"quantitative","title":null},"y2":{"datum":0.5}}},
{"transform":[{"filter":"isValid(datum.hi)"}],"mark":{"type":"rule","color":"#000","strokeWidth":1},"encoding":{"y":{"field":"lo","type":"quantitative","title":null},"y2":{"field":"hi"}}},
{"transform":[{"filter":"isValid(datum.hi)"}],"mark":{"type":"tick","color":"#000","thickness":1,"size":8},"encoding":{"y":{"field":"hi","type":"quantitative","title":null}}},
{"transform":[{"filter":"isValid(datum.ann)"}],"mark":{"type":"text","font":"Liberation Sans","fontWeight":"bold","fontSize":12,"baseline":"middle","dy":-12,"color":"#000"},"encoding":{"y":{"field":"hi","type":"quantitative","title":null},"text":{"field":"ann"}}},
{"transform":[{"filter":"isValid(datum.ann)"}],"mark":{"type":"text","text":"*","font":"Liberation Sans","fontWeight":"bold","fontSize":19,"baseline":"middle","dy":-24,"color":"#000"},"encoding":{"y":{"field":"hi","type":"quantitative","title":null}}},
{"transform":[{"filter":"isValid(datum.cat) && indexof(datum.cat,'water')>=0"}],"mark":{"type":"text","align":"left","baseline":"middle","dx":-16,"dy":13,"font":"Liberation Serif","fontWeight":"bold","fontSize":13.5,"color":"#000"},"encoding":{"y":{"datum":2.5},"text":{"field":"p"}}}
]},
{"transform":[{"filter":"isValid(datum.ref)"}],"mark":{"type":"rule","strokeDash":[4,3],"color":"#222","strokeWidth":1.2},"encoding":{"y":{"field":"ref","type":"quantitative","title":null}}}
]
},
{
"data":{"name":"d"},
"transform":[{"filter":"datum.p=='Blood water from mice that drank natural water for 10 weeks'"}],
"width":368,"height":120,
"layer":[
{"encoding":{"x":{"field":"cat","type":"nominal","sort":["RO water","solvent water","tap water AQP 1-7","AQP1","AQP2","AQP3","AQP4","AQP5","AQP7"],"title":null,"scale":{"paddingInner":0.4,"paddingOuter":0.2},"axis":{"labelExpr":"split(datum.label,' ')","labelAngle":0,"labelLineHeight":17}}},
"layer":[
{"transform":[{"filter":"isValid(datum.cat) && indexof(datum.cat,'water')>=0"}],"mark":{"type":"bar","fill":"#efefef"},"encoding":{"y":{"field":"v","type":"quantitative","title":null,"scale":{"domain":[0.5,3.0],"nice":false,"zero":false},"axis":{"tickCount":6,"labelExpr":"format(datum.value,'.1f')","labelOverlap":false}},"y2":{"datum":0.5}}},
{"transform":[{"filter":"datum.cat=='AQP1'"}],"mark":{"type":"bar","fill":"#858585"},"encoding":{"y":{"field":"v","type":"quantitative","title":null},"y2":{"datum":0.5}}},
{"transform":[{"filter":"datum.cat=='AQP2'"}],"mark":{"type":"bar","fill":{"expr":"gp2"}},"encoding":{"y":{"datum":3.0},"y2":{"datum":0.5}}},
{"transform":[{"filter":"datum.cat=='AQP3'"}],"mark":{"type":"bar","fill":{"expr":"gp3"}},"encoding":{"y":{"datum":3.0},"y2":{"datum":0.5}}},
{"transform":[{"filter":"datum.cat=='AQP4'"}],"mark":{"type":"bar","fill":{"expr":"gp4r"}},"encoding":{"y":{"datum":3.0},"y2":{"datum":0.5}}},
{"transform":[{"filter":"datum.cat=='AQP4'"}],"mark":{"type":"bar","fill":{"expr":"gp4c"}},"encoding":{"y":{"datum":3.0},"y2":{"datum":0.5}}},
{"transform":[{"filter":"datum.cat=='AQP5'"}],"mark":{"type":"bar","fill":{"expr":"gp5a"}},"encoding":{"y":{"datum":3.0},"y2":{"datum":0.5}}},
{"transform":[{"filter":"datum.cat=='AQP5'"}],"mark":{"type":"bar","fill":{"expr":"gp5b"}},"encoding":{"y":{"datum":3.0},"y2":{"datum":0.5}}},
{"transform":[{"filter":"datum.cat=='AQP7'"}],"mark":{"type":"bar","fill":{"expr":"gp7"}},"encoding":{"y":{"datum":3.0},"y2":{"datum":0.5}}},
{"transform":[{"filter":"isValid(datum.cat) && indexof(datum.cat,'AQP')==0"}],"mark":{"type":"bar","fill":"#fff","stroke":"#fff","strokeWidth":1.5,"y2Offset":2},"encoding":{"y":{"field":"v","type":"quantitative","title":null},"y2":{"datum":3.0}}},
{"transform":[{"filter":"isValid(datum.v)"}],"mark":{"type":"bar","fill":"transparent","stroke":"#1a1a1a","strokeWidth":1},"encoding":{"y":{"field":"v","type":"quantitative","title":null},"y2":{"datum":0.5}}},
{"transform":[{"filter":"isValid(datum.hi)"}],"mark":{"type":"rule","color":"#000","strokeWidth":1},"encoding":{"y":{"field":"lo","type":"quantitative","title":null},"y2":{"field":"hi"}}},
{"transform":[{"filter":"isValid(datum.hi)"}],"mark":{"type":"tick","color":"#000","thickness":1,"size":8},"encoding":{"y":{"field":"hi","type":"quantitative","title":null}}},
{"transform":[{"filter":"isValid(datum.ann)"}],"mark":{"type":"text","font":"Liberation Sans","fontWeight":"bold","fontSize":12,"baseline":"middle","dy":-12,"color":"#000"},"encoding":{"y":{"field":"hi","type":"quantitative","title":null},"text":{"field":"ann"}}},
{"transform":[{"filter":"isValid(datum.ann)"}],"mark":{"type":"text","text":"*","font":"Liberation Sans","fontWeight":"bold","fontSize":19,"baseline":"middle","dy":-24,"color":"#000"},"encoding":{"y":{"field":"hi","type":"quantitative","title":null}}},
{"transform":[{"filter":"isValid(datum.cat) && indexof(datum.cat,'water')>=0"}],"mark":{"type":"text","align":"left","baseline":"middle","dx":-16,"dy":12,"font":"Liberation Serif","fontWeight":"bold","fontSize":13.5,"color":"#000"},"encoding":{"y":{"datum":3.0},"text":{"field":"p"}}}
]},
{"transform":[{"filter":"isValid(datum.ref)"}],"mark":{"type":"rule","strokeDash":[4,3],"color":"#222","strokeWidth":1.2},"encoding":{"y":{"field":"ref","type":"quantitative","title":null}}}
]
}
]
}
]
}
],
"config":{
"view":{"stroke":"#000","strokeWidth":2},
"axisY":{"labelFont":"Liberation Sans","labelFontWeight":"bold","labelFontSize":12,"labelColor":"#000","ticks":false,"domain":false,"grid":false,"labelPadding":14,"labelOverlap":false},
"axisX":{"labelFont":"Liberation Serif","labelFontWeight":"bold","labelFontSize":13,"labelColor":"#000","ticks":false,"domain":false,"grid":false,"labelPadding":16,"labelLineHeight":18}
}
}
